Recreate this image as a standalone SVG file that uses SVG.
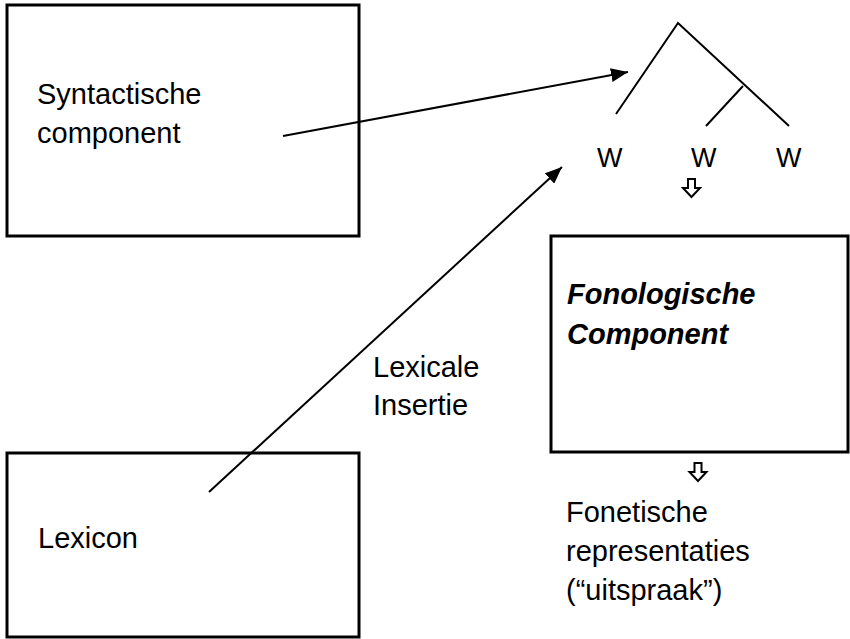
<svg xmlns="http://www.w3.org/2000/svg" width="850" height="639" viewBox="0 0 850 639">
<defs>
<style>
.box{fill:none;stroke:#000;stroke-width:3}
.t{font-family:"Liberation Sans",Arial,sans-serif;font-size:29px;fill:#000}
.w{font-size:27px}
.bi{font-weight:bold;font-style:italic}
.ln{stroke:#000;stroke-width:2;fill:none}
.hol{fill:#fff;stroke:#000;stroke-width:2;stroke-linejoin:miter}
</style>
<marker id="ah2" viewBox="0 0 10 10" refX="10" refY="5" markerWidth="17" markerHeight="14" markerUnits="userSpaceOnUse" orient="auto" preserveAspectRatio="none">
<path d="M0,0 L10,5 L0,10 z" fill="#000"/>
</marker>
</defs>
<rect width="850" height="639" fill="#fff"/>
<g id="syntactische">
<rect class="box" x="7" y="5" width="352" height="231"/>
<text class="t" x="37" y="104">Syntactische</text>
<text class="t" x="37" y="143">component</text>
</g>
<g id="lexicon">
<rect class="box" x="7" y="453" width="352" height="184"/>
<text class="t" x="38" y="548">Lexicon</text>
</g>
<g id="fonologische">
<rect class="box" x="551" y="236" width="297" height="216"/>
<text class="t bi" x="567" y="304">Fonologische</text>
<text class="t bi" x="567" y="344">Component</text>
</g>
<g id="tree">
<path class="ln" d="M616,114 L678,23 L789,126 M743,86 L706,126"/>
<text class="t w" x="597" y="167">W</text>
<text class="t w" x="691" y="167">W</text>
<text class="t w" x="776" y="167">W</text>
</g>
<g id="fonetische">
<text class="t" x="566" y="522">Fonetische</text>
<text class="t" x="566" y="561">representaties</text>
<text class="t" x="566" y="600">(“uitspraak”)</text>
</g>
<g id="label-lexicale">
<text class="t" x="373" y="377">Lexicale</text>
<text class="t" x="373" y="415">Insertie</text>
</g>
<g id="connectors">
<line class="ln" x1="283" y1="136" x2="628" y2="72" marker-end="url(#ah2)"/>
<line class="ln" x1="209" y1="492" x2="562" y2="167" marker-end="url(#ah2)"/>
<path class="hol" d="M688,179 h7 v9 h5 l-8.5,9 l-8.5,-9 h5 z"/>
<path class="hol" d="M694.5,463 h7 v9 h5 l-8.5,9 l-8.5,-9 h5 z"/>
</g>
</svg>
